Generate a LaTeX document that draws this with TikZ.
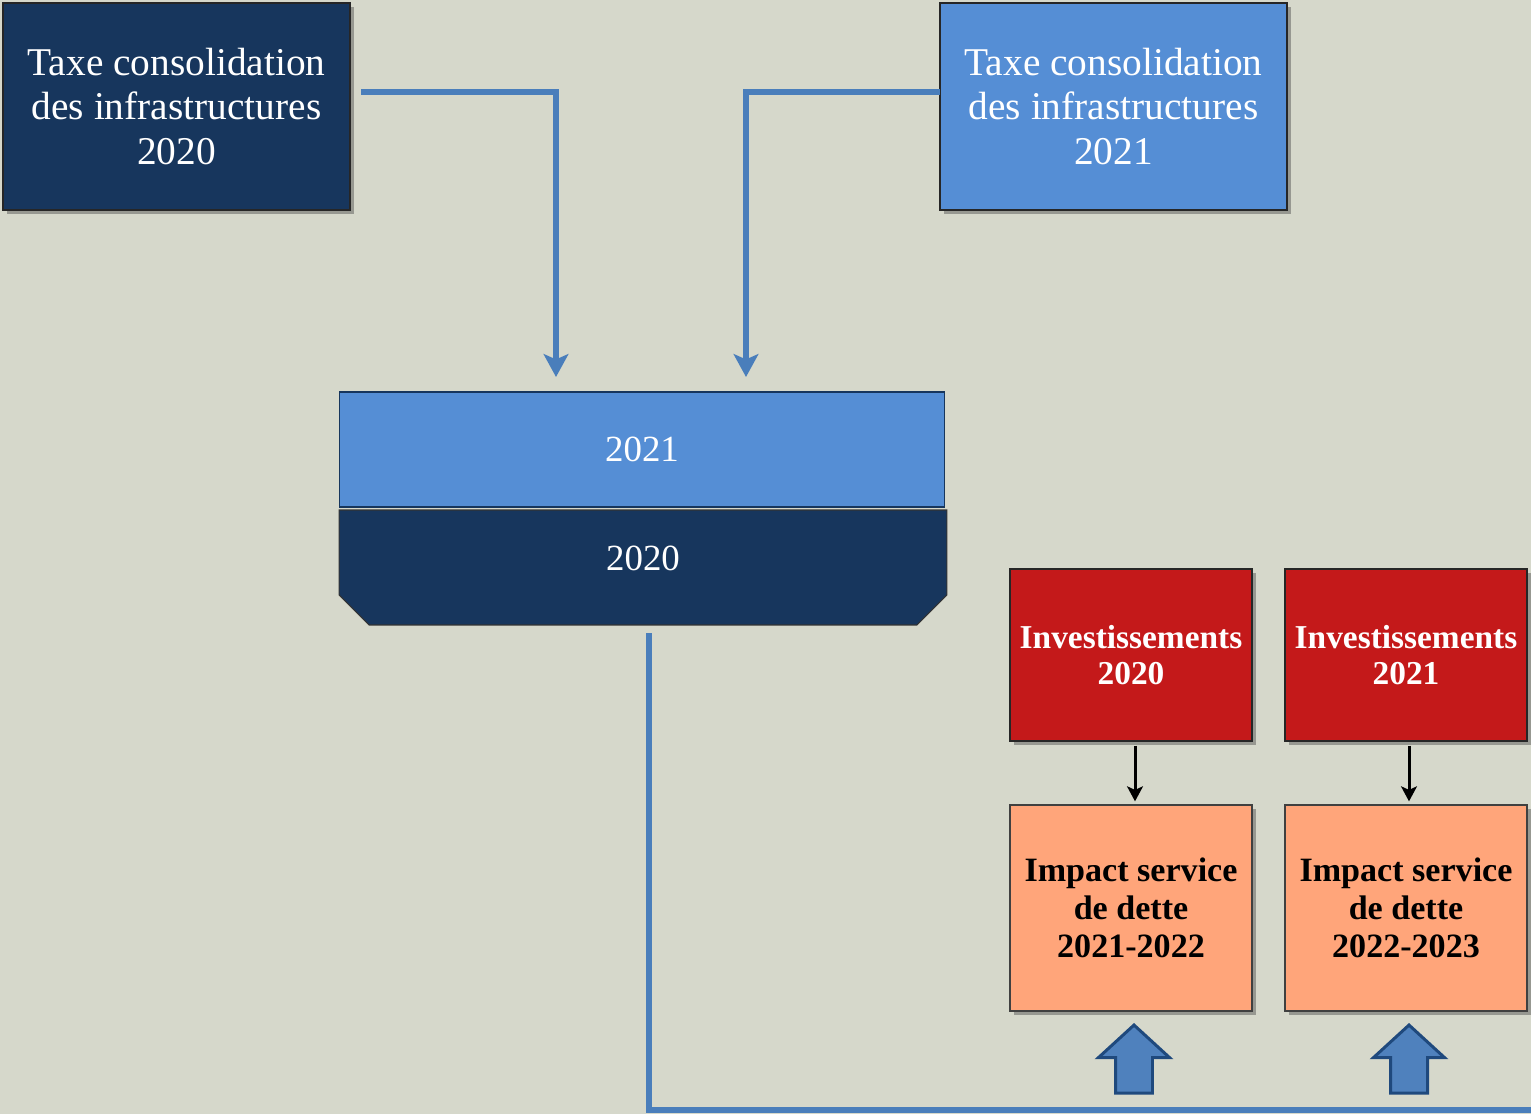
\documentclass[tikz,border=0pt]{standalone}
\usepackage{fontspec}
\setmainfont{Liberation Serif}
\usetikzlibrary{arrows.meta,shapes.misc,shapes.arrows,shadows}

\definecolor{navy}{RGB}{23,54,93}
\definecolor{skyblue}{RGB}{85,142,213}
\definecolor{linkblue}{RGB}{74,126,187}
\definecolor{invred}{RGB}{196,25,26}
\definecolor{debtorange}{RGB}{255,165,122}
\definecolor{bggray}{RGB}{214,216,203}
\definecolor{upfill}{RGB}{79,129,189}
\definecolor{upedge}{RGB}{31,73,125}

\begin{document}
\begin{tikzpicture}[
        x=0.02cm, y=-0.02cm,
        >=Stealth,
        boxshadow/.style={drop shadow={shadow xshift=2.5pt, shadow yshift=-2.5pt, opacity=0.45, fill=black!70}},
        taxbox/.style={rectangle, draw=black!85, line width=0.8pt, text=white, minimum width=6.94cm, minimum height=4.14cm, align=center, font=\fontsize{22.4}{25.5}\selectfont, boxshadow},
        yearbox/.style={rectangle, draw=navy, line width=0.6pt, text=white, minimum width=12.12cm, minimum height=2.3cm, inner sep=0pt, font=\fontsize{21}{25.5}\selectfont},
        invbox/.style={rectangle, draw=black!85, line width=0.8pt, fill=invred, text=white, minimum width=4.84cm, minimum height=3.44cm, align=center, font=\bfseries\fontsize{19}{20.4}\selectfont, boxshadow},
        debtbox/.style={rectangle, draw=black!75, line width=0.8pt, fill=debtorange, text=black, minimum width=4.84cm, minimum height=4.12cm, align=center, font=\bfseries\fontsize{19.4}{21.8}\selectfont, boxshadow},
        link/.style={draw=linkblue, line width=3.4pt, line join=miter, -{Stealth[length=13pt, width=14pt, inset=3pt]}},
        thinlink/.style={draw=black, line width=1.7pt, -{Stealth[length=8.5pt, width=9pt, inset=2pt]}, shorten <=2.3pt, shorten >=1.7pt},
        uparrow/.style={single arrow, shape border rotate=90, draw=upedge, fill=upfill, line width=1.7pt, minimum height=1.36cm, minimum width=1.4cm, single arrow head extend=0.34cm, single arrow tip angle=95, inner sep=0.34cm}
    ]

    % background
    \path[use as bounding box, fill=bggray] (0,0) rectangle (1531,1114);

    % ==========================================
    % 1. Taxes (top)
    % ==========================================
    \node[taxbox, fill=navy] (tax20) at (176.5,106.5) {Taxe consolidation\\des infrastructures\\2020};
    \node[taxbox, fill=skyblue] (tax21) at (1113.5,106.5) {Taxe consolidation\\des infrastructures\\2021};

    % ==========================================
    % 2. Stacked years (middle)
    % ==========================================
    \node[yearbox, fill=skyblue] (y21) at (642,449.5) {2021};
    \node[yearbox, fill=navy, draw=black!80, chamfered rectangle, chamfered rectangle corners={south west,south east},
          chamfered rectangle xsep=0.3cm, chamfered rectangle ysep=0.3cm, minimum width=12.16cm, text depth=11pt] (y20) at (643,567.5) {2020};

    % connectors taxes -> years
    \coordinate (s20) at (361,92);
    \coordinate (e20) at (556,377);
    \coordinate (s21) at (940,92);
    \coordinate (e21) at (746,377);
    \path[link] (s20) -| (e20);
    \path[link] (s21) -| (e21);

    % ==========================================
    % 3. Investments & debt service (right)
    % ==========================================
    \node[invbox] (inv20) at (1131,655) {Investissements\\2020};
    \node[invbox] (inv21) at (1406,655) {Investissements\\2021};
    \node[debtbox] (dd20) at (1131,908) {Impact service\\de dette\\2021-2022};
    \node[debtbox] (dd21) at (1406,908) {Impact service\\de dette\\2022-2023};

    \path[thinlink] ([xshift=4*0.02cm]inv20.south) -- ([xshift=4*0.02cm]dd20.north);
    \path[thinlink] ([xshift=3*0.02cm]inv21.south) -- ([xshift=3*0.02cm]dd21.north);

    % block arrows and return line
    \node[uparrow] (up20) at (1134,1067.5) {};
    \node[uparrow] (up21) at (1409,1067.5) {};

    \coordinate (r0) at (649,633);
    \coordinate (r1) at (1545,1110);
    \path[link, -] (r0) |- (r1);

\end{tikzpicture}
\end{document}
